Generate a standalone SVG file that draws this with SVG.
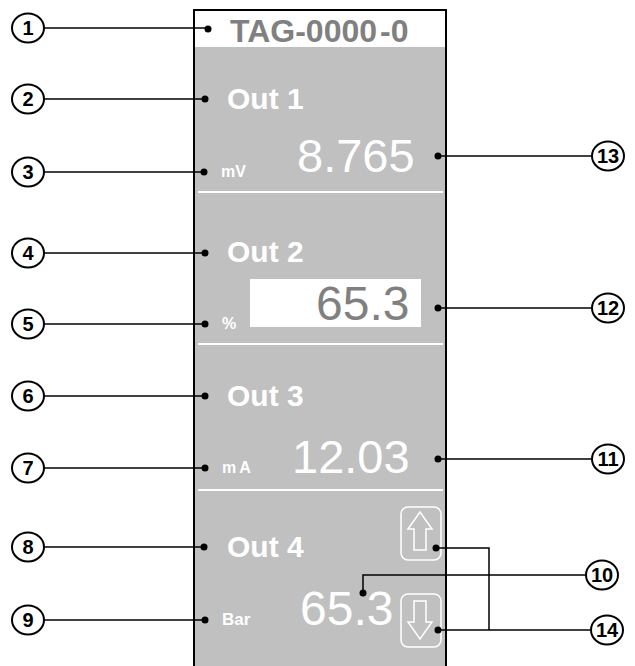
<svg xmlns="http://www.w3.org/2000/svg" width="635" height="666" viewBox="0 0 635 666">
<style>
.num{font-family:"Liberation Sans",Arial,sans-serif;font-weight:bold;font-size:20px;fill:#000;text-anchor:middle}
.callout{fill:#fff;stroke:#000;stroke-width:2}
.lbl{font-family:"Liberation Sans",Arial,sans-serif;font-weight:bold;font-size:30px;fill:#fff}
.unit{font-family:"Liberation Sans",Arial,sans-serif;font-weight:bold;font-size:16px;fill:#fff}
.val{font-family:"Liberation Sans",Arial,sans-serif;font-size:47px;fill:#fff}
.sep{stroke:#fff;stroke-width:2}
.btn{fill:none;stroke:#fff;stroke-width:1.5}
.ln{fill:none;stroke:#000;stroke-width:1.5}
.dot{fill:#000}
</style>
<rect width="635" height="666" fill="#fff"/>
<g id="panel">
<rect x="194" y="10" width="252" height="680" fill="#c0c0c0" stroke="#000" stroke-width="2"/>
<rect x="195" y="11" width="250" height="36" fill="#fff"/>
<text x="230" y="42" font-family="Liberation Sans,Arial,sans-serif" font-weight="bold" font-size="32" fill="#808080">TAG-0000<tspan dx="3">-0</tspan></text>
<line class="sep" x1="198" y1="192" x2="443" y2="192"/>
<line class="sep" x1="198" y1="344" x2="443" y2="344"/>
<line class="sep" x1="198" y1="490" x2="443" y2="490"/>
</g>
<g id="out1">
<text class="lbl" x="227" y="109">Out 1</text>
<text class="unit" x="221" y="177">mV</text>
<text class="val" x="297" y="172">8.765</text>
</g>
<g id="out2">
<text class="lbl" x="227" y="262">Out 2</text>
<text class="unit" x="222" y="329">%</text>
<rect x="250" y="279" width="171" height="48" fill="#fff"/>
<text class="val" x="316" y="320" fill="#808080" style="fill:#808080;font-size:48px">65.3</text>
</g>
<g id="out3">
<text class="lbl" x="227" y="406">Out 3</text>
<text class="unit" x="222" y="473" letter-spacing="3">mA</text>
<text class="val" x="292" y="473">12.03</text>
</g>
<g id="out4">
<text class="lbl" x="227" y="557">Out 4</text>
<text class="unit" x="222" y="625" style="font-size:17px">Bar</text>
<text class="val" x="300" y="625" style="font-size:48px">65.3</text>
<rect class="btn" x="401" y="507" width="40" height="53" rx="7"/>
<path class="btn" d="M420,512 L408,529 L414,529 L414,550 L426,550 L426,529 L432,529 Z"/>
<rect class="btn" x="401" y="594" width="40" height="53" rx="7"/>
<path class="btn" d="M414,601 L426,601 L426,622 L432,622 L420,639 L408,622 L414,622 Z"/>
</g>
<g id="connectors">
<line class="ln" x1="44" y1="28" x2="208" y2="28"/>
<line class="ln" x1="44" y1="99" x2="205" y2="99"/>
<line class="ln" x1="44" y1="172" x2="204" y2="172"/>
<line class="ln" x1="44" y1="253" x2="205" y2="253"/>
<line class="ln" x1="44" y1="324" x2="205" y2="324"/>
<line class="ln" x1="44" y1="396" x2="205" y2="396"/>
<line class="ln" x1="44" y1="468" x2="205" y2="468"/>
<line class="ln" x1="44" y1="547" x2="204" y2="547"/>
<line class="ln" x1="44" y1="620" x2="205" y2="620"/>
<line class="ln" x1="438" y1="156" x2="592" y2="156"/>
<line class="ln" x1="438" y1="308" x2="592" y2="308"/>
<line class="ln" x1="438" y1="459" x2="592" y2="459"/>
<polyline class="ln" points="363,593 363,575 586,575"/>
<polyline class="ln" points="436,548 489,548 489,630"/>
<line class="ln" x1="438" y1="630" x2="591" y2="630"/>
<circle class="dot" cx="208" cy="29" r="3.5"/>
<circle class="dot" cx="205" cy="99" r="3.5"/>
<circle class="dot" cx="204" cy="172" r="3.5"/>
<circle class="dot" cx="205" cy="253" r="3.5"/>
<circle class="dot" cx="205" cy="324" r="3.5"/>
<circle class="dot" cx="205" cy="396" r="3.5"/>
<circle class="dot" cx="205" cy="468" r="3.5"/>
<circle class="dot" cx="204" cy="547" r="3.5"/>
<circle class="dot" cx="205" cy="620" r="3.5"/>
<circle class="dot" cx="438" cy="156" r="3.5"/>
<circle class="dot" cx="438" cy="308" r="3.5"/>
<circle class="dot" cx="438" cy="459" r="3.5"/>
<circle class="dot" cx="363" cy="593" r="3.5"/>
<circle class="dot" cx="436" cy="548" r="3.5"/>
<circle class="dot" cx="438" cy="630" r="3.5"/>
</g>
<g id="c1"><ellipse class="callout" cx="28" cy="28" rx="16" ry="14.5"/><text class="num" x="28" y="35">1</text></g>
<g id="c2"><ellipse class="callout" cx="28" cy="99" rx="16" ry="14.5"/><text class="num" x="28" y="106">2</text></g>
<g id="c3"><ellipse class="callout" cx="28" cy="172" rx="16" ry="14.5"/><text class="num" x="28" y="179">3</text></g>
<g id="c4"><ellipse class="callout" cx="28" cy="253" rx="16" ry="14.5"/><text class="num" x="28" y="260">4</text></g>
<g id="c5"><ellipse class="callout" cx="28" cy="324" rx="16" ry="14.5"/><text class="num" x="28" y="331">5</text></g>
<g id="c6"><ellipse class="callout" cx="28" cy="396" rx="16" ry="14.5"/><text class="num" x="28" y="403">6</text></g>
<g id="c7"><ellipse class="callout" cx="28" cy="468" rx="16" ry="14.5"/><text class="num" x="28" y="475">7</text></g>
<g id="c8"><ellipse class="callout" cx="28" cy="547" rx="16" ry="14.5"/><text class="num" x="28" y="554">8</text></g>
<g id="c9"><ellipse class="callout" cx="28" cy="620" rx="16" ry="14.5"/><text class="num" x="28" y="627">9</text></g>
<g id="c13"><ellipse class="callout" cx="608" cy="156" rx="16" ry="14.5"/><text class="num" x="608" y="163">13</text></g>
<g id="c12"><ellipse class="callout" cx="608" cy="308" rx="16" ry="14.5"/><text class="num" x="608" y="315">12</text></g>
<g id="c11"><ellipse class="callout" cx="608" cy="459" rx="16" ry="14.5"/><text class="num" x="608" y="466">11</text></g>
<g id="c10"><ellipse class="callout" cx="602" cy="575" rx="16" ry="14.5"/><text class="num" x="602" y="582">10</text></g>
<g id="c14"><ellipse class="callout" cx="607" cy="630" rx="16" ry="14.5"/><text class="num" x="607" y="637">14</text></g>
</svg>
